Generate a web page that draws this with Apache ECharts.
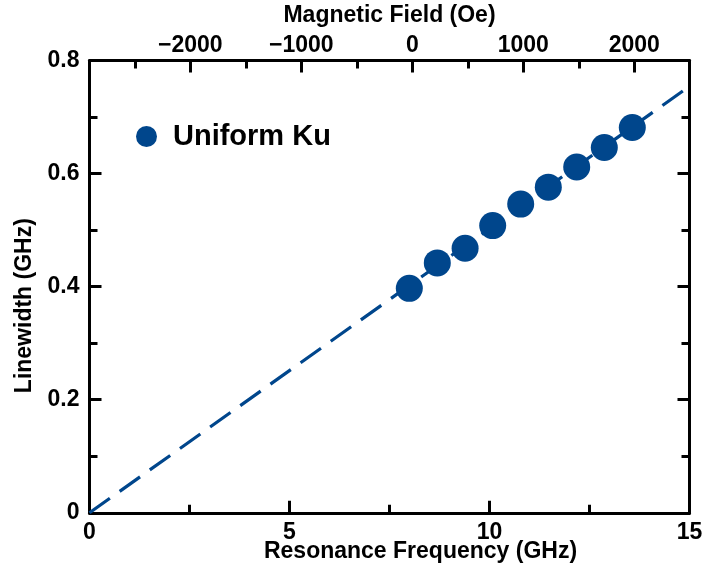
<!DOCTYPE html>
<html>
<head>
<meta charset="utf-8">
<script src="https://cdn.jsdelivr.net/npm/echarts@6/dist/echarts.min.js"></script>
<style>html,body{margin:0;padding:0;background:#fff}#c{width:707px;height:571px}</style>
</head>
<body>
<div id="c"></div>
<script>
// Data
const freqGHz = [7.995, 8.695, 9.39, 10.08, 10.78, 11.47, 12.18, 12.87, 13.57];
const linewidthGHz = [0.397, 0.442, 0.468, 0.508, 0.546, 0.576, 0.6115, 0.646, 0.6815];
const fitX = [0, 15];
const fitY = [0, 0.7545];
const fieldMajorTicks = [-2000, -1000, 0, 1000, 2000];
const fieldMinorTicks = [-2500, -1500, -500, 500, 1500];
const fieldRange = [-2908, 2497];
const seriesName = 'Uniform Ku';

const blue = '#00468C';
const font = '"Liberation Sans", Arial, sans-serif';
const lblStyle = {color: '#000', fontWeight: 'bold', fontSize: 23, fontFamily: font};
const axLine = {show: true, onZero: false, lineStyle: {color: '#000', width: 3}};

const chart = echarts.init(document.getElementById('c'));
chart.setOption({
  animation: false,
  backgroundColor: '#fff',
  grid: {left: 89.5, right: 17.5, top: 60.5, bottom: 58.2, containLabel: false, outerBoundsMode: 'none'},
  legend: {
    data: [seriesName], left: 131, top: 117, icon: 'circle',
    itemWidth: 21, itemHeight: 21,
    textStyle: {color: '#000', fontWeight: 'bold', fontSize: 29, fontFamily: font, padding: [0, 0, 0, 11]}
  },
  xAxis: [
    {
      type: 'value', position: 'bottom', min: 0, max: 15, interval: 5,
      name: 'Resonance Frequency (GHz)', nameLocation: 'middle', nameGap: 27, nameMoveOverlap: false,
      nameTextStyle: Object.assign({}, lblStyle, {padding: [0, 0, 0, 62]}),
      axisLine: axLine,
      axisTick: {show: true, inside: true, length: 12, lineStyle: {color: '#000', width: 3}},
      minorTick: {show: true, splitNumber: 2, length: 8, lineStyle: {color: '#000', width: 3}},
      axisLabel: Object.assign({margin: 8}, lblStyle),
      splitLine: {show: false}
    },
    {
      type: 'value', position: 'top', min: fieldRange[0], max: fieldRange[1],
      name: 'Magnetic Field (Oe)', nameLocation: 'middle', nameGap: 33,
      nameTextStyle: lblStyle,
      axisLine: axLine,
      axisTick: {show: true, inside: true, length: 12, customValues: fieldMajorTicks, lineStyle: {color: '#000', width: 3}},
      axisLabel: Object.assign({margin: 3, customValues: fieldMajorTicks,
        formatter: v => (v < 0 ? '\u2212' + Math.abs(v) : String(v))}, lblStyle),
      splitLine: {show: false}
    },
    {
      type: 'value', position: 'top', min: fieldRange[0], max: fieldRange[1],
      axisLine: {show: false, onZero: false},
      axisTick: {show: true, inside: true, length: 8, customValues: fieldMinorTicks, lineStyle: {color: '#000', width: 3}},
      axisLabel: {show: false},
      splitLine: {show: false}
    }
  ],
  yAxis: [
    {
      type: 'value', position: 'left', min: 0, max: 0.8, interval: 0.2,
      name: 'Linewidth (GHz)', nameLocation: 'middle', nameGap: 52,
      nameTextStyle: Object.assign({}, lblStyle, {padding: [0, 38, 0, 0]}),
      axisLine: axLine,
      axisTick: {show: true, inside: true, length: 12, lineStyle: {color: '#000', width: 3}},
      minorTick: {show: true, splitNumber: 2, length: 8, lineStyle: {color: '#000', width: 3}},
      axisLabel: Object.assign({margin: 10, formatter: v => (v === 0 ? '0' : v.toFixed(1))}, lblStyle),
      splitLine: {show: false}
    },
    {
      type: 'value', position: 'right', min: 0, max: 0.8, interval: 0.2,
      axisLine: axLine,
      axisTick: {show: true, inside: true, length: 12, lineStyle: {color: '#000', width: 3}},
      minorTick: {show: true, splitNumber: 2, length: 8, lineStyle: {color: '#000', width: 3}},
      axisLabel: {show: false},
      splitLine: {show: false}
    }
  ],
  series: [
    {
      type: 'line', name: 'fit', xAxisIndex: 0, yAxisIndex: 0,
      data: fitX.map((x, i) => [x, fitY[i]]),
      showSymbol: false, symbol: 'none', silent: true, z: 2,
      lineStyle: {color: blue, width: 3.2, type: [25, 12]}
    },
    {
      type: 'scatter', name: seriesName, xAxisIndex: 0, yAxisIndex: 0,
      data: freqGHz.map((x, i) => [x, linewidthGHz[i]]),
      symbol: 'circle', symbolSize: 27, z: 3,
      itemStyle: {color: blue, opacity: 1}
    }
  ]
});
</script>
</body>
</html>
